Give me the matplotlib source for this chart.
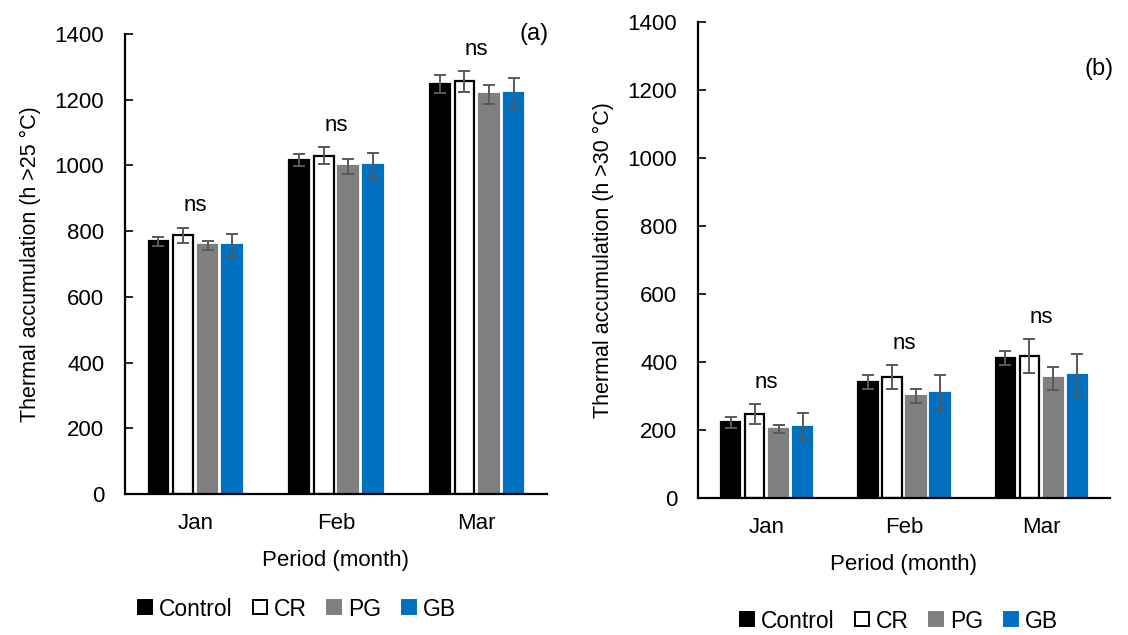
import numpy as np
import matplotlib.pyplot as plt
from matplotlib.lines import Line2D

plt.rcParams['font.family'] = ['Liberation Sans', 'DejaVu Sans']

#data
months = ['Jan', 'Feb', 'Mar']
treatments = ['Control', 'CR', 'PG', 'GB']

# panel (a): hours > 25 C
a_mean = {'Control': [769, 1017, 1248],
          'CR': [787, 1030, 1256],
          'PG': [757, 997, 1216],
          'GB': [757, 1000, 1220]}
a_err = {'Control': [14, 18, 28],
         'CR': [24, 26, 31],
         'PG': [14, 22, 30],
         'GB': [34, 37, 45]}

# panel (b): hours > 30 C
b_mean = {'Control': [223, 341, 412],
          'CR': [247, 357, 418],
          'PG': [203, 301, 352],
          'GB': [210, 309, 362]}
b_err = {'Control': [16, 20, 20],
         'CR': [29, 35, 49],
         'PG': [11, 21, 33],
         'GB': [39, 54, 63]}

face = {'Control': 'black', 'CR': 'white', 'PG': '#7f7f7f', 'GB': '#0070c0'}
edge = {'Control': 'black', 'CR': 'black', 'PG': '#7f7f7f', 'GB': '#0070c0'}

W, H = 1128, 635
fig = plt.figure(figsize=(W / 100, H / 100), dpi=100)
FS = 16


def draw_panel(ax, means, errs, ylabel, tag, tag_xy):
    x = np.arange(len(months))
    width = 0.14
    step = 0.175
    offsets = (np.arange(len(treatments)) - 1.5) * step
    tops = np.zeros(len(months))
    for k, t in enumerate(treatments):
        ax.bar(x + offsets[k], means[t], width, color=face[t], edgecolor=edge[t],
               linewidth=1.6, yerr=errs[t], capsize=4.5,
               error_kw=dict(ecolor='#595959', elinewidth=1.4, capthick=1.4), zorder=2)
        tops = np.maximum(tops, np.array(means[t]) + np.array(errs[t]))
    for i in range(len(months)):
        ax.annotate('ns', (x[i], tops[i]), xytext=(0, 8), textcoords='offset points',
                    ha='center', va='bottom', fontsize=FS)
    ax.set_xlim(-0.5, 2.5)
    ax.set_ylim(0, 1400)
    ax.set_yticks(np.arange(0, 1401, 200))
    ax.set_xticks(x)
    ax.set_xticklabels(months)
    ax.tick_params(axis='y', direction='in', length=6, width=1.2, labelsize=FS, pad=15)
    ax.tick_params(axis='x', length=0, labelsize=FS, pad=14)
    for s in ['top', 'right']:
        ax.spines[s].set_visible(False)
    for s in ['left', 'bottom']:
        ax.spines[s].set_linewidth(1.6)
    ax.set_ylabel(ylabel, fontsize=15.5, labelpad=10)
    ax.set_xlabel('Period (month)', fontsize=FS, labelpad=11)
    fig.text(tag_xy[0] / W, 1 - tag_xy[1] / H, tag, fontsize=17, ha='center', va='center')


ax1 = fig.add_axes([125 / W, 1 - 494 / H, 422 / W, 460 / H])
draw_panel(ax1, a_mean, a_err, 'Thermal accumulation (h >25 \u00b0C)', '(a)', (534, 34))

ax2 = fig.add_axes([698 / W, 1 - 498 / H, 412 / W, 476 / H])
draw_panel(ax2, b_mean, b_err, 'Thermal accumulation (h >30 \u00b0C)', '(b)', (1099, 69))

handles = [Line2D([], [], marker='s', linestyle='none', markersize=9.5,
                  markerfacecolor=face[t], markeredgecolor=edge[t], markeredgewidth=1.4)
           for t in treatments]

for cx, cy in [(296, 609), (898, 621)]:
    fig.legend(handles, treatments, loc='center', bbox_to_anchor=(cx / W, 1 - cy / H),
               ncol=4, frameon=False, fontsize=16.5, handletextpad=0.2,
               columnspacing=0.8, handlelength=0.8, borderpad=0.1)

fig.savefig('out.png', dpi=100)
